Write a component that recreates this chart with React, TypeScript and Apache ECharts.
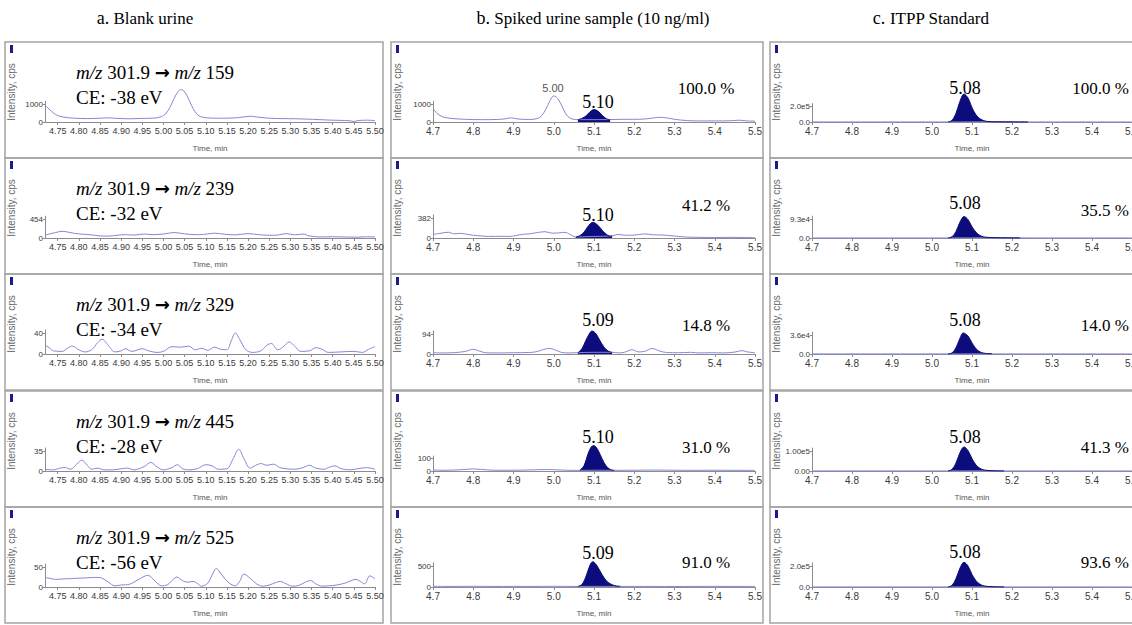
import React, { useEffect, useRef } from "react";
import * as echarts from "echarts";

type Pt = [number, number];

// ---------- texts ----------
const columnLetters = ["a.", "b.", "c."];
const columnNames = ["Blank urine", "Spiked urine sample (10 ng/ml)", "ITPP Standard"];
const precursorMz = "301.9";
const productMz = ["159", "239", "329", "445", "525"];
const collisionEnergy = ["-38", "-32", "-34", "-28", "-56"];
const spikedRetention = ["5.10", "5.10", "5.09", "5.10", "5.09"];
const spikedRelative = ["100.0 %", "41.2 %", "14.8 %", "31.0 %", "91.0 %"];
const standardRetention = ["5.08", "5.08", "5.08", "5.08", "5.08"];
const standardRelative = ["100.0 %", "35.5 %", "14.0 %", "41.3 %", "93.6 %"];
const interferencePeakTime = "5.00";

// ---------- axis ticks ----------
const blankYTick = [1000, 454, 40, 35, 50];
const blankYTickText = ["1000", "454", "40", "35", "50"];
const spikedYTick = [1000, 382, 94, 100, 500];
const spikedYTickText = ["1000", "382", "94", "100", "500"];
const standardYTick = [2.0e5, 9.3e4, 3.6e4, 1.0e5, 2.0e5];
const standardYTickText = ["2.0e5", "9.3e4", "3.6e4", "1.00e5", "2.0e5"];
const standardZeroText = ["0.0", "0.0", "0.0", "0.00", "0.0"];
const blankTimeTicks = [4.75, 4.8, 4.85, 4.9, 4.95, 5.0, 5.05, 5.1, 5.15, 5.2, 5.25, 5.3, 5.35, 5.4, 5.45, 5.5];
const runTimeTicks = [4.7, 4.8, 4.9, 5.0, 5.1, 5.2, 5.3, 5.4, 5.5];

// ---------- blank urine traces (time, cps) ----------
const blank159: Pt[] = [[4.72,950],[4.725,820],[4.735,600],[4.745,420],[4.755,320],[4.77,250],[4.79,210],[4.82,190],[4.85,210],[4.87,230],[4.89,200],[4.92,180],[4.95,200],[4.98,220],[4.995,300],[5.005,450],[5.015,800],[5.025,1300],[5.035,1700],[5.042,1800],[5.05,1680],[5.06,1250],[5.07,750],[5.08,420],[5.09,280],[5.11,220],[5.14,210],[5.17,230],[5.19,280],[5.205,320],[5.22,280],[5.25,210],[5.28,190],[5.31,180],[5.34,160],[5.37,130],[5.4,100],[5.42,90],[5.44,70],[5.45,30],[5.46,80],[5.48,100],[5.5,80]];
const blank239: Pt[] = [[4.72,70],[4.73,95],[4.745,130],[4.76,160],[4.775,140],[4.79,110],[4.81,90],[4.83,75],[4.85,50],[4.87,45],[4.89,65],[4.91,80],[4.93,70],[4.955,95],[4.975,80],[5.0,95],[5.025,130],[5.05,100],[5.075,80],[5.095,85],[5.12,115],[5.145,90],[5.17,75],[5.2,105],[5.225,80],[5.25,65],[5.27,70],[5.29,105],[5.31,75],[5.33,95],[5.345,50],[5.37,25],[5.4,30],[5.43,25],[5.46,20],[5.48,30],[5.5,25]];
const blank329: Pt[] = [[4.72,17],[4.73,12],[4.74,6],[4.76,5],[4.775,12],[4.785,15],[4.8,8],[4.815,4],[4.83,8],[4.845,22],[4.855,28],[4.87,16],[4.885,4],[4.9,6],[4.91,10],[4.925,5],[4.95,10],[4.965,6],[4.985,3],[5.0,5],[5.02,14],[5.04,13],[5.06,15],[5.075,8],[5.09,11],[5.105,7],[5.12,13],[5.135,9],[5.15,8],[5.16,25],[5.17,40],[5.18,28],[5.195,8],[5.21,3],[5.23,6],[5.245,17],[5.255,20],[5.27,8],[5.285,15],[5.297,23],[5.31,15],[5.325,5],[5.345,6],[5.36,12],[5.375,9],[5.39,3],[5.42,4],[5.45,5],[5.47,3],[5.485,9],[5.5,14]];
const blank445: Pt[] = [[4.72,3],[4.74,2],[4.755,5],[4.768,6],[4.78,3],[4.795,12],[4.807,19],[4.82,10],[4.83,3],[4.845,5],[4.86,2],[4.88,2],[4.9,4],[4.915,5],[4.93,2],[4.955,8],[4.97,15],[4.985,7],[5.0,2],[5.02,6],[5.033,11],[5.045,4],[5.06,2],[5.08,4],[5.1,11],[5.115,9],[5.13,3],[5.15,4],[5.165,22],[5.178,38],[5.19,22],[5.205,5],[5.218,10],[5.23,13],[5.245,10],[5.26,12],[5.275,6],[5.29,4],[5.31,3],[5.33,6],[5.345,10],[5.36,5],[5.38,3],[5.39,6],[5.405,9],[5.42,4],[5.44,2],[5.46,4],[5.48,6],[5.5,3]];
const blank525: Pt[] = [[4.72,24],[4.73,22],[4.745,19],[4.76,20],[4.78,21],[4.8,22],[4.82,23],[4.84,24],[4.855,22],[4.87,12],[4.885,3],[4.9,5],[4.92,7],[4.94,18],[4.963,29],[4.98,15],[4.995,3],[5.01,6],[5.022,18],[5.032,25],[5.045,16],[5.058,12],[5.07,14],[5.08,9],[5.09,2],[5.105,10],[5.115,30],[5.125,46],[5.138,30],[5.155,10],[5.17,3],[5.18,14],[5.19,32],[5.205,22],[5.22,8],[5.235,2],[5.25,5],[5.265,11],[5.276,14],[5.29,8],[5.305,2],[5.32,4],[5.335,12],[5.348,16],[5.36,8],[5.375,2],[5.39,3],[5.41,5],[5.43,10],[5.455,19],[5.465,14],[5.475,8],[5.488,28],[5.5,20]];

// ---------- spiked urine traces ----------
const spiked159: Pt[] = [[4.7,700],[4.705,620],[4.71,480],[4.72,330],[4.73,250],[4.75,190],[4.78,150],[4.82,130],[4.86,140],[4.88,180],[4.895,230],[4.91,170],[4.94,140],[4.96,200],[4.97,350],[4.98,700],[4.99,1150],[5.0,1450],[5.01,1300],[5.02,900],[5.03,450],[5.04,220],[5.05,150],[5.06,130],[5.1,130],[5.15,140],[5.18,150],[5.21,150],[5.24,200],[5.26,260],[5.28,230],[5.3,150],[5.33,80],[5.36,60],[5.4,60],[5.44,70],[5.46,100],[5.48,60],[5.5,50]];
const spiked239: Pt[] = [[4.7,70],[4.715,85],[4.738,110],[4.752,80],[4.77,88],[4.785,70],[4.8,52],[4.82,40],[4.84,30],[4.87,32],[4.89,30],[4.905,45],[4.92,68],[4.94,80],[4.96,105],[4.978,120],[4.99,100],[5.0,92],[5.015,100],[5.028,108],[5.04,70],[5.055,20],[5.1,30],[5.145,40],[5.16,68],[5.175,55],[5.19,52],[5.21,65],[5.227,78],[5.245,62],[5.27,57],[5.29,45],[5.31,30],[5.33,18],[5.36,12],[5.4,10],[5.44,12],[5.47,10],[5.5,8]];
const spiked329: Pt[] = [[4.7,6],[4.72,5],[4.75,6],[4.78,12],[4.8,22],[4.815,14],[4.83,6],[4.86,5],[4.9,6],[4.94,7],[4.96,12],[4.975,22],[4.99,26],[5.005,18],[5.02,7],[5.04,5],[5.055,6],[5.1,8],[5.145,8],[5.16,5],[5.175,8],[5.195,20],[5.21,10],[5.225,12],[5.245,26],[5.26,16],[5.28,7],[5.31,6],[5.34,8],[5.36,5],[5.39,6],[5.42,5],[5.45,9],[5.468,16],[5.48,10],[5.5,6]];
const spiked445: Pt[] = [[4.7,8],[4.72,6],[4.75,7],[4.78,12],[4.8,16],[4.82,12],[4.85,6],[4.9,6],[4.95,9],[4.98,11],[5.0,10],[5.03,6],[5.06,5],[5.1,6],[5.15,5],[5.2,6],[5.25,7],[5.3,6],[5.35,5],[5.4,6],[5.45,5],[5.5,5]];
const spiked525: Pt[] = [[4.7,15],[4.75,14],[4.8,16],[4.85,14],[4.9,15],[4.95,14],[5.0,16],[5.05,14],[5.06,14],[5.1,15],[5.16,15],[5.2,14],[5.25,14],[5.3,12],[5.35,14],[5.4,15],[5.45,14],[5.5,14]];

// ---------- spiked urine ITPP peaks ----------
const spikedPeak159: Pt[] = [[5.06,130],[5.07,200],[5.08,340],[5.09,560],[5.1,690],[5.11,600],[5.12,380],[5.13,190],[5.14,120]];
const spikedPeak239: Pt[] = [[5.055,20],[5.065,45],[5.075,110],[5.085,220],[5.097,300],[5.11,240],[5.12,150],[5.13,75],[5.14,35],[5.145,40]];
const spikedPeak329: Pt[] = [[5.06,6],[5.07,25],[5.08,65],[5.09,100],[5.095,108],[5.105,95],[5.115,62],[5.125,32],[5.135,14],[5.145,8]];
const spikedPeak445: Pt[] = [[5.065,5],[5.075,40],[5.085,130],[5.093,185],[5.1,195],[5.11,160],[5.12,95],[5.13,40],[5.14,12],[5.15,5]];
const spikedPeak525: Pt[] = [[5.06,14],[5.07,60],[5.08,250],[5.09,520],[5.097,600],[5.105,540],[5.115,380],[5.125,220],[5.135,110],[5.145,55],[5.155,25],[5.165,15]];

// ---------- ITPP standard traces and peaks ----------
const standard159: Pt[] = [[4.7,6000],[4.705,800],[4.8,600],[4.9,600],[5.0,600],[5.04,600],[5.15,2500],[5.2,2000],[5.24,600],[5.3,600],[5.4,600],[5.5,600]];
const standard239: Pt[] = [[4.7,3000],[4.705,300],[4.8,300],[4.9,300],[5.0,300],[5.04,300],[5.15,1200],[5.22,900],[5.25,300],[5.3,300],[5.4,300],[5.5,300]];
const standard329: Pt[] = [[4.7,1000],[4.705,150],[4.8,150],[4.9,150],[5.0,150],[5.04,150],[5.15,300],[5.2,150],[5.3,150],[5.4,150],[5.5,150]];
const standard445: Pt[] = [[4.7,3000],[4.705,400],[4.8,400],[4.9,400],[5.0,400],[5.04,400],[5.15,1000],[5.2,400],[5.3,400],[5.4,400],[5.5,400]];
const standard525: Pt[] = [[4.7,6000],[4.705,800],[4.8,800],[4.9,800],[5.0,800],[5.04,800],[5.15,2000],[5.2,800],[5.3,800],[5.4,800],[5.5,800]];
const standardPeak159: Pt[] = [[5.04,0],[5.05,2e4],[5.06,1.1e5],[5.07,2.6e5],[5.08,3.5e5],[5.09,3.0e5],[5.1,1.8e5],[5.11,9e4],[5.12,4e4],[5.13,1.6e4],[5.14,6e3],[5.16,2e3],[5.2,1e3],[5.24,0]];
const standardPeak239: Pt[] = [[5.04,0],[5.05,6e3],[5.06,3.2e4],[5.07,7.8e4],[5.08,1.05e5],[5.09,9e4],[5.1,5.5e4],[5.11,2.8e4],[5.12,1.2e4],[5.13,5e3],[5.15,2e3],[5.22,500]];
const standardPeak329: Pt[] = [[5.04,0],[5.05,2e3],[5.06,1.2e4],[5.07,3e4],[5.078,4e4],[5.09,3.4e4],[5.1,2.1e4],[5.11,1e4],[5.12,4e3],[5.13,1.5e3],[5.15,500]];
const standardPeak445: Pt[] = [[5.04,0],[5.05,8e3],[5.06,4e4],[5.07,9.2e4],[5.08,1.2e5],[5.09,1.02e5],[5.1,6.2e4],[5.11,3e4],[5.12,1.3e4],[5.13,5e3],[5.15,1.5e3],[5.18,500]];
const standardPeak525: Pt[] = [[5.04,0],[5.05,1.5e4],[5.06,8e4],[5.07,1.8e5],[5.08,2.35e5],[5.09,2.0e5],[5.1,1.2e5],[5.11,6e4],[5.12,2.6e4],[5.13,1e4],[5.15,3e3],[5.18,1e3]];

const traces = [
  [blank159, blank239, blank329, blank445, blank525],
  [spiked159, spiked239, spiked329, spiked445, spiked525],
  [standard159, standard239, standard329, standard445, standard525],
];
const peaks: (Pt[] | null)[][] = [
  [null, null, null, null, null],
  [spikedPeak159, spikedPeak239, spikedPeak329, spikedPeak445, spikedPeak525],
  [standardPeak159, standardPeak239, standardPeak329, standardPeak445, standardPeak525],
];

// ---------- layout (pixels) ----------
const baselines = [122, 238, 354, 471, 587];
const cols = [
  { left: 45, width: 330, min: 4.72, max: 5.5, frameL: 5, frameR: 383, strip: 11, digits: 2, titleX: 145, tickFont: 9 },
  { left: 433, width: 322, min: 4.7, max: 5.5, frameL: 391, frameR: 763, strip: 397, digits: 1, titleX: 593, tickFont: 10 },
  { left: 812, width: 320, min: 4.7, max: 5.5, frameL: 770, frameR: 1145, strip: 776, digits: 1, titleX: 931, tickFont: 10 },
];
const labelOffsets = [
  [18, 19, 21, 20, 20],
  [18, 20, 20, 13, 21],
  [16, 19, 19, 20, 21],
];
const spikedRtOffset = [20, 23, 34, 34, 34];
const spikedRelOffset = [34, 33, 29, 24, 25];
const standardRtOffset = [34, 35, 34, 34, 35];
const standardRelOffset = [34, 28, 29, 24, 25];

const TRACE = "#8686d6";
const NAVY = "#0c0c7c";
const AXIS = "#8c8c8c";
const SERIF = "Liberation Serif, Times New Roman, serif";
const SANS = "Liberation Sans, Arial, sans-serif";

function buildOption() {
  const grid: any[] = [];
  const xAxis: any[] = [];
  const yAxis: any[] = [];
  const series: any[] = [];
  const graphic: any[] = [];

  const yTicks = [blankYTick, spikedYTick, standardYTick];
  const yTickTexts = [blankYTickText, spikedYTickText, standardYTickText];

  for (let c = 0; c < 3; c++) {
    const L = cols[c];
    for (let r = 0; r < 5; r++) {
      const idx = c * 5 + r;
      const yt = yTicks[c][r];
      const ytText = yTickTexts[c][r];
      const zeroText = c === 2 ? standardZeroText[r] : "0";
      const h = labelOffsets[c][r] * 1.15;
      grid.push({
        left: L.left,
        width: L.width,
        top: baselines[r] - h,
        height: h,
        containLabel: false,
        outerBoundsMode: "none",
      });
      const ticks = c === 0 ? blankTimeTicks : runTimeTicks;
      xAxis.push({
        type: "value",
        gridIndex: idx,
        min: L.min,
        max: L.max,
        axisLine: { show: true, onZero: false, lineStyle: { color: AXIS, width: 1 } },
        axisTick: { show: true, customValues: ticks, length: 3, lineStyle: { color: AXIS } },
        axisLabel: {
          customValues: ticks,
          formatter: (v: number) => v.toFixed(L.digits),
          fontSize: L.tickFont,
          color: "#3a3a3a",
          margin: 4,
          fontFamily: SANS,
        },
        splitLine: { show: false },
        name: "Time, min",
        nameLocation: "middle",
        nameGap: 22,
        nameTextStyle: { fontSize: 8, color: "#555", fontFamily: SANS },
      });
      yAxis.push({
        type: "value",
        gridIndex: idx,
        min: 0,
        max: yt * 1.15,
        axisLine: { show: true, lineStyle: { color: AXIS, width: 1 } },
        axisTick: { show: true, customValues: [0, yt], length: 2, lineStyle: { color: AXIS } },
        axisLabel: {
          customValues: [0, yt],
          formatter: (v: number) => (v === 0 ? zeroText : ytText),
          fontSize: 8,
          color: "#3a3a3a",
          margin: 2,
          fontFamily: SANS,
        },
        splitLine: { show: false },
      });
      series.push({
        type: "line",
        xAxisIndex: idx,
        yAxisIndex: idx,
        data: traces[c][r],
        symbol: "none",
        smooth: 0.35,
        clip: false,
        silent: true,
        lineStyle: { color: TRACE, width: 1 },
      });
      const pk = peaks[c][r];
      if (pk) {
        series.push({
          type: "line",
          xAxisIndex: idx,
          yAxisIndex: idx,
          data: pk,
          symbol: "none",
          smooth: 0.35,
          clip: false,
          silent: true,
          lineStyle: { color: NAVY, width: 1 },
          areaStyle: { color: NAVY, opacity: 1 },
        });
      }

      // panel frame + decorations
      const top = baselines[r] - 80;
      graphic.push({
        type: "rect",
        silent: true,
        shape: { x: L.frameL, y: top, width: L.frameR - L.frameL, height: 116 },
        style: { fill: "none", stroke: "#a4a4a4", lineWidth: 1.5 },
      });
      graphic.push({
        type: "rect",
        silent: true,
        shape: { x: L.strip - 1, y: top + 3, width: 3, height: 8 },
        style: { fill: "#1a1a8a" },
      });
      graphic.push({
        type: "text",
        silent: true,
        x: L.strip,
        y: baselines[r] - 30,
        rotation: Math.PI / 2,
        style: {
          text: "Intensity, cps",
          fontSize: 10,
          fontFamily: SANS,
          fill: "#6a6a6a",
          align: "center",
          verticalAlign: "middle",
        },
      });

      if (c === 0) {
        graphic.push({
          type: "text",
          silent: true,
          x: 76,
          y: baselines[r] - 50,
          style: {
            text: `{i|m/z} ${precursorMz} {a|→} {i|m/z} ${productMz[r]}`,
            rich: {
              i: { fontStyle: "italic", fontFamily: SERIF, fontSize: 19, fill: "#000" },
              a: { fontWeight: "bold", fontFamily: "DejaVu Sans, sans-serif", fontSize: 18, fill: "#000" },
            },
            fontFamily: SERIF,
            fontSize: 19,
            fill: "#000",
            align: "left",
            verticalAlign: "middle",
          },
        });
        graphic.push({
          type: "text",
          silent: true,
          x: 76,
          y: baselines[r] - 25,
          style: {
            text: `CE: ${collisionEnergy[r]} eV`,
            fontFamily: SERIF,
            fontSize: 19,
            fill: "#000",
            align: "left",
            verticalAlign: "middle",
          },
        });
      } else {
        const rt = c === 1 ? spikedRetention[r] : standardRetention[r];
        const rel = c === 1 ? spikedRelative[r] : standardRelative[r];
        const rtOff = c === 1 ? spikedRtOffset[r] : standardRtOffset[r];
        const relOff = c === 1 ? spikedRelOffset[r] : standardRelOffset[r];
        const rtX = c === 1 ? 598 : 965;
        graphic.push({
          type: "text",
          silent: true,
          x: rtX,
          y: baselines[r] - rtOff,
          style: { text: rt, fontFamily: SERIF, fontSize: 18, fill: "#000", align: "center", verticalAlign: "middle" },
        });
        graphic.push({
          type: "text",
          silent: true,
          x: c === 1 ? 706 : 1129,
          y: baselines[r] - relOff,
          style: {
            text: rel,
            fontFamily: SERIF,
            fontSize: 17,
            fill: "#000",
            align: c === 1 ? "center" : "right",
            verticalAlign: "middle",
          },
        });
      }
    }
    // column header
    graphic.push({
      type: "text",
      silent: true,
      x: L.titleX,
      y: 18,
      style: {
        text: `{l|${columnLetters[c]}} ${columnNames[c]}`,
        rich: { l: { fontFamily: SERIF, fontSize: 18, fill: "#000" } },
        fontFamily: SERIF,
        fontSize: 17,
        fill: "#000",
        align: "center",
        verticalAlign: "middle",
      },
    });
  }
  // small software label on the interfering peak
  graphic.push({
    type: "text",
    silent: true,
    x: 553,
    y: 88,
    style: {
      text: interferencePeakTime,
      fontFamily: SANS,
      fontSize: 11,
      fill: "#555",
      align: "center",
      verticalAlign: "middle",
    },
  });

  return {
    animation: false,
    backgroundColor: "#ffffff",
    grid,
    xAxis,
    yAxis,
    series,
    graphic,
  };
}

export default function App() {
  const ref = useRef<HTMLDivElement>(null);
  useEffect(() => {
    document.body.style.margin = "0";
    if (!ref.current) return;
    const chart = echarts.init(ref.current, undefined, { renderer: "svg" });
    chart.setOption(buildOption() as any);
    return () => chart.dispose();
  }, []);
  return <div ref={ref} style={{ width: 1132, height: 625 }} />;
}
